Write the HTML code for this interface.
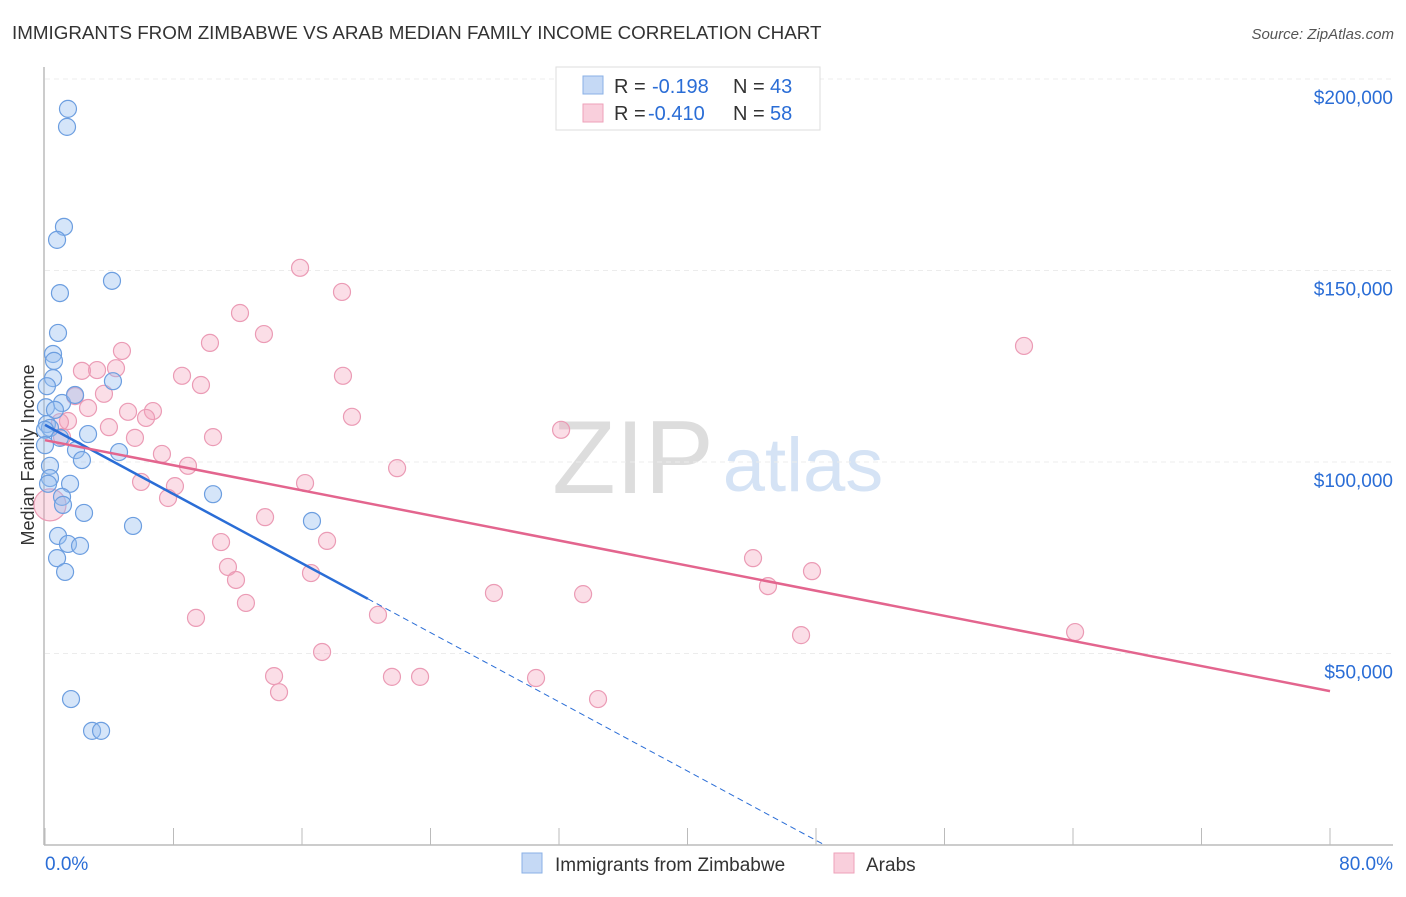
<!DOCTYPE html>
<html><head><meta charset="utf-8"><style>
body{margin:0;background:#fff;font-family:"Liberation Sans",sans-serif;}
svg text{font-family:"Liberation Sans",sans-serif;}
</style></head><body>
<svg id="c" width="1406" height="892">
<text x="12" y="39" font-size="18.8" fill="#333">IMMIGRANTS FROM ZIMBABWE VS ARAB MEDIAN FAMILY INCOME CORRELATION CHART</text>
<text x="1394" y="39" font-size="15" fill="#555" font-style="italic" text-anchor="end">Source: ZipAtlas.com</text>
<text x="0" y="0" transform="translate(34,455) rotate(-90)" font-size="18" fill="#333" text-anchor="middle">Median Family Income</text>
<g><text x="633" y="493" font-size="104" fill="#ddd" font-family="Liberation Serif" text-anchor="middle">ZIP</text><text x="803" y="491" font-size="76" fill="#d5e3f5" text-anchor="middle">atlas</text></g>
<g id="grid"></g><g id="axes"></g><g id="pts"></g><g id="lines"></g>
<g>
<rect x="556" y="67" width="264" height="63" fill="#fff" stroke="#ddd"/>
<rect x="583" y="76" width="20" height="18" fill="#c5d9f5" stroke="#8ab0e6"/>
<text x="614" y="93" font-size="20" fill="#333">R =</text>
<text x="652" y="93" font-size="20" fill="#2a6dd6">-0.198</text>
<text x="733" y="93" font-size="20" fill="#333">N =</text>
<text x="770" y="93" font-size="20" fill="#2a6dd6">43</text>
<rect x="583" y="104" width="20" height="18" fill="#f9cfdc" stroke="#eea2ba"/>
<text x="614" y="120" font-size="20" fill="#333">R =</text>
<text x="648" y="120" font-size="20" fill="#2a6dd6">-0.410</text>
<text x="733" y="120" font-size="20" fill="#333">N =</text>
<text x="770" y="120" font-size="20" fill="#2a6dd6">58</text>
</g>
<g>
<rect x="522" y="853" width="20" height="20" fill="#c5d9f5" stroke="#8ab0e6"/>
<text x="555" y="871" font-size="19" fill="#333">Immigrants from Zimbabwe</text>
<rect x="834" y="853" width="20" height="20" fill="#f9cfdc" stroke="#eea2ba"/>
<text x="866" y="871" font-size="19" fill="#333">Arabs</text>
</g>
</svg>
<script>
const blueX=[1.43,1.37,1.18,0.75,4.17,0.93,0.81,0.5,0.56,0.5,4.23,0.12,1.06,0.06,0.62,0.12,0.31,2.68,0.93,1.93,2.3,4.61,0.31,0.31,1.56,0.19,1.06,10.46,1.12,2.43,16.62,5.48,0.81,1.43,2.18,0.75,1.25,1.62,2.93,3.49,1.87,0,0];
const blueY=[192.2,187.5,161.4,158,147.3,144.1,133.7,128.2,126.4,121.9,121.1,119.8,115.4,114.3,113.6,109.9,108.9,107.3,106.3,103.1,100.5,102.6,99,95.8,94.3,94.3,90.9,91.6,88.8,86.7,84.6,83.3,80.7,78.6,78.1,74.9,71.3,38.1,29.8,29.8,117.5,108.4,104.4];
const pinkPx=[300,342,240,264,1024,210,122,97,82,116,182,343,201,104,75,88,128,153,352,146,68,60,109,561,135,213,62,162,188,397,141,305,175,168,50,265,221,327,228,753,812,236,768,311,494,583,246,378,196,801,1075,322,274,392,420,536,279,598];
const pinkPy=[268,292,313,334,346,343,351,370,371,368,376,376,385,394,396,408,412,411,417,418,421,422,427,430,438,437,437,454,466,468,482,483,486,498,505,517,542,541,567,558,571,580,586,573,593,594,603,615,618,635,632,652,676,677,677,678,692,699];
const pinkX=pinkPx.map(p=>+((p-45)*0.06226).toFixed(2));
const pinkY=pinkPy.map(p=>+((845-p)*0.2611).toFixed(1));
const yTicks=[50,100,150,200];
const yLabels=["$50,000","$100,000","$150,000","$200,000"];
const blueTrend=[109.7,-2.26];
const pinkTrend=[105.7,-0.819];
const X=v=>45+v/80*1285;
const Y=v=>845-v/50*191.5;
const NS="http://www.w3.org/2000/svg";
function mk(tag,attrs,parent){const e=document.createElementNS(NS,tag);for(const k in attrs)e.setAttribute(k,attrs[k]);document.getElementById(parent).appendChild(e);return e;}
yTicks.forEach((t,i)=>{
 const l=mk('line',{x1:45,x2:1393,y1:Y(t),y2:Y(t),stroke:'#ececec','stroke-dasharray':'5,4'},'grid');
 
 
 const tx=mk('text',{x:1393,y:Y(t)+25,'font-size':19,fill:'#2a6dd6','text-anchor':'end'},'grid');
 tx.textContent=yLabels[i];
 
 
});
const ax=mk('line',{x1:44,x2:44,y1:67,y2:845,stroke:'#bbb','stroke-width':1.5},'axes');


const bx=mk('line',{x1:44,x2:1393,y1:845,y2:845,stroke:'#bbb','stroke-width':1.5},'axes');


for(let i=0;i<=10;i++){const t=mk('line',{x1:X(i*8),x2:X(i*8),y1:828,y2:845,stroke:'#bbb'},'axes');
 
 }
const x0=mk('text',{x:45,y:870,'font-size':19,fill:'#2a6dd6'},'axes');x0.textContent='0.0%';


const x1=mk('text',{x:1393,y:870,'font-size':19,fill:'#2a6dd6','text-anchor':'end'},'axes');x1.textContent='80.0%';


pinkX.forEach((v,i)=>{const c=mk('circle',{cx:X(v),cy:Y(pinkY[i]),r:i==34?16:8.5,fill:'rgba(244,160,186,0.35)',stroke:'#eb9bb5','stroke-width':1.2},'pts');
 
 });
blueX.forEach((v,i)=>{const c=mk('circle',{cx:X(v),cy:Y(blueY[i]),r:8.5,fill:'rgba(150,190,240,0.4)',stroke:'#6c9ee0','stroke-width':1.2},'pts');
 
 });
const bEnd=20.1, bZero=-blueTrend[0]/blueTrend[1];
const bl=mk('line',{x1:X(0),y1:Y(blueTrend[0]),x2:X(bEnd),y2:Y(blueTrend[0]+blueTrend[1]*bEnd),stroke:'#2a6dd6','stroke-width':2.5},'lines');


const bd=mk('line',{x1:X(bEnd),y1:Y(blueTrend[0]+blueTrend[1]*bEnd),x2:X(bZero),y2:Y(0),stroke:'#2a6dd6','stroke-width':1,'stroke-dasharray':'6,4'},'lines');


const pl=mk('line',{x1:X(0),y1:Y(pinkTrend[0]),x2:X(80),y2:Y(pinkTrend[0]+pinkTrend[1]*80),stroke:'#e3658e','stroke-width':2.5},'lines');


</script>
</body></html>
